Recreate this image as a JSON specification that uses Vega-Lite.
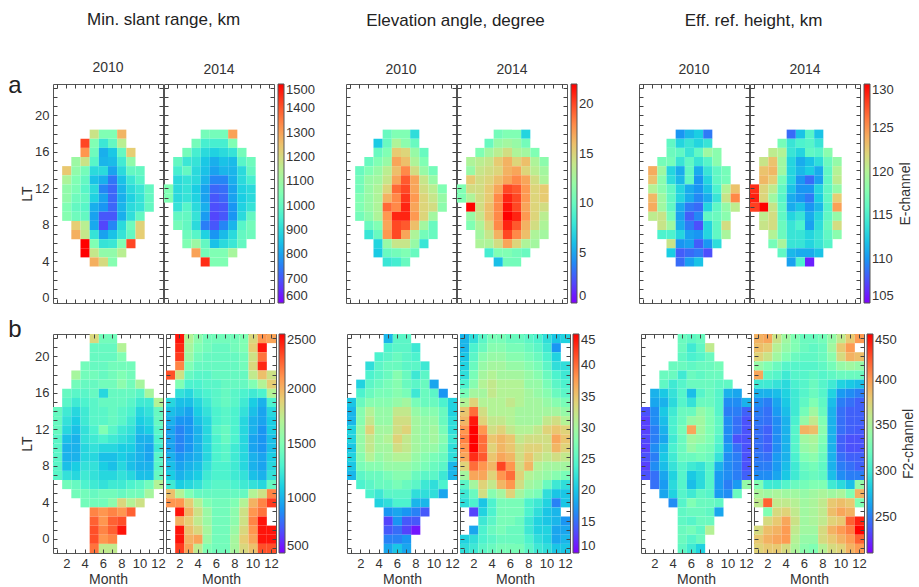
{
"$schema": "https://vega.github.io/schema/vega-lite/v6.json",
"padding": {"left": 8, "top": 10, "right": 1, "bottom": 0},
"background": "white",
"config": {
 "font": "Liberation Sans",
 "view": {"stroke": "#555", "strokeWidth": 1},
 "title": {"font": "Liberation Sans", "fontWeight": "normal", "color": "#222"},
 "axis": {"domain": false, "bandPosition": 0.5, "tickColor": "#444", "tickSize": -4, "tickWidth": 1, "labelFontSize": 13, "labelColor": "#333", "labelFont": "Liberation Sans", "titleFont": "Liberation Sans", "titleFontSize": 14, "titleFontWeight": "normal", "titleColor": "#333", "gridColor": "#e0e0e0", "labelAngle": 0},
 "axisX": {"gridOpacity": {"condition": {"test": "datum.value % 2 == 0", "value": 1}, "value": 0}, "labelPadding": 8, "titlePadding": 2},
 "axisY": {"gridOpacity": {"condition": {"test": "datum.value % 4 == 0", "value": 1}, "value": 0}, "labelPadding": 8, "titlePadding": 0},
 "legend": {"gradientLength": 219, "gradientThickness": 6, "labelFontSize": 13, "labelColor": "#333", "labelFont": "Liberation Sans", "offset": 3, "labelOffset": 4, "labelBaseline": "middle", "gradientStrokeColor": "#555", "gradientStrokeWidth": 1, "padding": 0, "titleFontSize": 14, "titleFontWeight": "normal", "titleColor": "#333", "titleFont": "Liberation Sans", "labelOverlap": false}
},
"spacing": 11,
"resolve": {"scale": {"color": "independent"}},
"vconcat": [
{
 "title": {"text": "a", "orient": "left", "anchor": "end", "angle": 0, "fontSize": 24, "color": "#222", "baseline": "top", "align": "right", "offset": -15, "dy": 63},
 "spacing": 44,
 "resolve": {"scale": {"color": "independent"}},
 "hconcat": [
 {
  "spacing": 30,
  "resolve": {"scale": {"color": "independent"}},
  "hconcat": [
  {
   "title": {"text": "Min. slant range, km", "fontSize": 17, "offset": 32, "anchor": "middle", "dx": -4},
   "spacing": -2,
   "resolve": {"scale": {"color": "shared"}},
   "hconcat": [
   {
    "width": 110, "height": 219,
    "title": {"text": "2010", "fontSize": 14, "color": "#333", "offset": 7},
    "data": {"values": "m,h,v\n5,18,1180\n6,18,1050\n7,18,1050\n8,18,1270\n4,17,1420\n5,17,1050\n6,17,930\n7,17,1000\n8,17,1150\n4,16,1320\n5,16,1020\n6,16,820\n7,16,860\n8,16,1000\n9,16,1230\n3,15,1100\n4,15,1180\n5,15,980\n6,15,830\n7,15,840\n8,15,940\n9,15,1080\n2,14,1240\n3,14,1080\n4,14,1030\n5,14,900\n6,14,900\n7,14,800\n8,14,900\n9,14,1000\n10,14,1000\n2,13,1130\n3,13,1050\n4,13,1000\n5,13,850\n6,13,820\n7,13,740\n8,13,850\n9,13,930\n10,13,980\n2,12,1080\n3,12,1040\n4,12,980\n5,12,900\n6,12,760\n7,12,720\n8,12,830\n9,12,900\n10,12,930\n11,12,1000\n2,11,1080\n3,11,1020\n4,11,1000\n5,11,880\n6,11,800\n7,11,720\n8,11,820\n9,11,880\n10,11,920\n11,11,1000\n2,10,1050\n3,10,1000\n4,10,980\n5,10,820\n6,10,780\n7,10,720\n8,10,830\n9,10,900\n10,10,920\n11,10,1000\n2,9,1060\n3,9,1020\n4,9,1000\n5,9,800\n6,9,700\n7,9,700\n8,9,820\n9,9,910\n10,9,1000\n3,8,1230\n4,8,1150\n5,8,810\n6,8,680\n7,8,760\n8,8,900\n9,8,1020\n10,8,1220\n3,7,1280\n4,7,1170\n5,7,920\n6,7,800\n7,7,850\n8,7,920\n9,7,1000\n10,7,1230\n4,6,1500\n5,6,1050\n6,6,920\n7,6,930\n8,6,1050\n9,6,1420\n4,5,1500\n5,5,1170\n6,5,1080\n7,5,1080\n8,5,1150\n5,4,1280\n6,4,1200\n7,4,1060", "format": {"type": "csv", "parse": {"m": "number", "h": "number", "v": "number"}}},
    "resolve": {"axis": {"x": "independent", "y": "independent"}},
    "layer": [
     {"mark": "rect", "encoding": {
      "x": {"field": "m", "type": "ordinal", "scale": {"domain": [1,2,3,4,5,6,7,8,9,10,11,12]}, "axis": {"orient": "bottom", "labels": false, "title": null, "grid": true}},
      "y": {"field": "h", "type": "ordinal", "scale": {"domain": [23,22,21,20,19,18,17,16,15,14,13,12,11,10,9,8,7,6,5,4,3,2,1,0]}, "axis": {"orient": "left", "title": "LT", "grid": true, "labelExpr": "datum.value % 4 == 0 ? datum.label : ''"}},
      "color": {"field": "v", "type": "quantitative", "scale": {"domain": [600,690,780,870,960,1050,1140,1230,1320,1410,1500], "range": ["#8000ff","#4d4ffc","#1996f3","#1acee3","#4df3ce","#80ffb4","#b3f396","#e6ce74","#ff964f","#ff4f28","#ff0000"], "interpolate": "rgb"}, "legend": {"title": null, "format": "d", "values": [600,700,800,900,1000,1100,1200,1300,1400,1500]}}}},
     {"mark": {"type": "rect", "opacity": 0}, "encoding": {
      "x": {"field": "m", "type": "ordinal", "scale": {"domain": [1,2,3,4,5,6,7,8,9,10,11,12]}, "axis": {"orient": "top", "labels": false, "title": null}},
      "y": {"field": "h", "type": "ordinal", "scale": {"domain": [23,22,21,20,19,18,17,16,15,14,13,12,11,10,9,8,7,6,5,4,3,2,1,0]}, "axis": {"orient": "right", "labels": false, "title": null}}}}
    ]
   },
   {
    "width": 110, "height": 219,
    "title": {"text": "2014", "fontSize": 14, "color": "#333", "offset": 7},
    "data": {"values": "m,h,v\n5,18,1030\n6,18,1030\n7,18,1030\n8,18,1300\n4,17,1030\n5,17,950\n6,17,950\n7,17,950\n8,17,1050\n3,16,1030\n4,16,950\n5,16,900\n6,16,880\n7,16,900\n8,16,920\n9,16,1030\n2,15,1000\n3,15,930\n4,15,920\n5,15,860\n6,15,820\n7,15,850\n8,15,840\n9,15,980\n10,15,1020\n2,14,950\n3,14,1000\n4,14,900\n5,14,850\n6,14,800\n7,14,830\n8,14,830\n9,14,900\n10,14,1000\n2,13,900\n3,13,920\n4,13,900\n5,13,830\n6,13,760\n7,13,760\n8,13,820\n9,13,900\n10,13,950\n1,12,1050\n2,12,900\n3,12,920\n4,12,870\n5,12,800\n6,12,720\n7,12,730\n8,12,800\n9,12,880\n10,12,900\n1,11,1050\n2,11,900\n3,11,920\n4,11,880\n5,11,800\n6,11,700\n7,11,720\n8,11,800\n9,11,870\n10,11,900\n2,10,920\n3,10,980\n4,10,900\n5,10,820\n6,10,690\n7,10,700\n8,10,780\n9,10,880\n10,10,920\n2,9,1000\n3,9,1000\n4,9,920\n5,9,790\n6,9,680\n7,9,700\n8,9,780\n9,9,900\n10,9,1000\n2,8,1030\n3,8,1000\n4,8,900\n5,8,750\n6,8,700\n7,8,760\n8,8,830\n9,8,980\n10,8,1030\n3,7,1020\n4,7,980\n5,7,880\n6,7,780\n7,7,840\n8,7,900\n9,7,1000\n10,7,1020\n3,6,1050\n4,6,1100\n5,6,1000\n6,6,850\n7,6,900\n8,6,930\n9,6,1000\n4,5,1300\n5,5,1030\n6,5,1050\n7,5,1050\n8,5,1120\n5,4,1450\n6,4,1050\n7,4,1050", "format": {"type": "csv", "parse": {"m": "number", "h": "number", "v": "number"}}},
    "resolve": {"axis": {"x": "independent", "y": "independent"}},
    "layer": [
     {"mark": "rect", "encoding": {
      "x": {"field": "m", "type": "ordinal", "scale": {"domain": [1,2,3,4,5,6,7,8,9,10,11,12]}, "axis": {"orient": "bottom", "labels": false, "title": null, "grid": true}},
      "y": {"field": "h", "type": "ordinal", "scale": {"domain": [23,22,21,20,19,18,17,16,15,14,13,12,11,10,9,8,7,6,5,4,3,2,1,0]}, "axis": {"orient": "left", "labels": false, "title": null, "grid": true}},
      "color": {"field": "v", "type": "quantitative", "scale": {"domain": [600,690,780,870,960,1050,1140,1230,1320,1410,1500], "range": ["#8000ff","#4d4ffc","#1996f3","#1acee3","#4df3ce","#80ffb4","#b3f396","#e6ce74","#ff964f","#ff4f28","#ff0000"], "interpolate": "rgb"}, "legend": {"title": null, "format": "d", "values": [600,700,800,900,1000,1100,1200,1300,1400,1500]}}}},
     {"mark": {"type": "rect", "opacity": 0}, "encoding": {
      "x": {"field": "m", "type": "ordinal", "scale": {"domain": [1,2,3,4,5,6,7,8,9,10,11,12]}, "axis": {"orient": "top", "labels": false, "title": null}},
      "y": {"field": "h", "type": "ordinal", "scale": {"domain": [23,22,21,20,19,18,17,16,15,14,13,12,11,10,9,8,7,6,5,4,3,2,1,0]}, "axis": {"orient": "right", "labels": false, "title": null}}}}
    ]
   }
   ]
  },
  {
   "title": {"text": "Elevation angle, degree", "fontSize": 17, "offset": 32, "anchor": "middle", "dx": -14},
   "spacing": -2,
   "resolve": {"scale": {"color": "shared"}},
   "hconcat": [
   {
    "width": 110, "height": 219,
    "title": {"text": "2010", "fontSize": 14, "color": "#333", "offset": 7},
    "data": {"values": "m,h,v\n5,18,10\n6,18,11\n7,18,11\n8,18,7.5\n4,17,6.5\n5,17,10\n6,17,13\n7,17,11.5\n8,17,10\n4,16,10\n5,16,11\n6,16,15.5\n7,16,15\n8,16,12\n9,16,10\n3,15,10\n4,15,11\n5,15,12\n6,15,17\n7,15,16\n8,15,13\n9,15,11\n2,14,10\n3,14,11\n4,14,12\n5,14,13.5\n6,14,16\n7,14,18\n8,14,14.5\n9,14,12\n10,14,10.5\n2,13,10.5\n3,13,12\n4,13,12.5\n5,13,14\n6,13,17\n7,13,19.5\n8,13,17\n9,13,14\n10,13,12\n2,12,10.5\n3,12,12\n4,12,13\n5,12,15\n6,12,19\n7,12,20\n8,12,17\n9,12,14.5\n10,12,13.5\n11,12,11\n2,11,11\n3,11,12\n4,11,13\n5,11,16.5\n6,11,18\n7,11,20.5\n8,11,17.5\n9,11,15\n10,11,14\n11,11,12\n2,10,11\n3,10,12\n4,10,13\n5,10,19\n6,10,18\n7,10,21\n8,10,17\n9,10,15\n10,10,14.5\n11,10,11.5\n2,9,10.5\n3,9,11.5\n4,9,13\n5,9,17.5\n6,9,21\n7,9,21\n8,9,17.5\n9,9,15\n10,9,12.5\n3,8,10\n4,8,11\n5,8,17\n6,8,20\n7,8,19.5\n8,8,16\n9,8,12.5\n10,8,10\n3,7,8\n4,7,10\n5,7,17.5\n6,7,20\n7,7,17\n8,7,13\n9,7,10.5\n10,7,10\n4,6,7\n5,6,12\n6,6,14\n7,6,14\n8,6,12\n9,6,8\n4,5,6.5\n5,5,10\n6,5,10.5\n7,5,11\n8,5,10\n5,4,8\n6,4,8.5\n7,4,10", "format": {"type": "csv", "parse": {"m": "number", "h": "number", "v": "number"}}},
    "resolve": {"axis": {"x": "independent", "y": "independent"}},
    "layer": [
     {"mark": "rect", "encoding": {
      "x": {"field": "m", "type": "ordinal", "scale": {"domain": [1,2,3,4,5,6,7,8,9,10,11,12]}, "axis": {"orient": "bottom", "labels": false, "title": null, "grid": true}},
      "y": {"field": "h", "type": "ordinal", "scale": {"domain": [23,22,21,20,19,18,17,16,15,14,13,12,11,10,9,8,7,6,5,4,3,2,1,0]}, "axis": {"orient": "left", "labels": false, "title": null, "grid": true}},
      "color": {"field": "v", "type": "quantitative", "scale": {"domain": [0,2.2,4.4,6.6,8.8,11,13.2,15.4,17.6,19.8,22], "range": ["#8000ff","#4d4ffc","#1996f3","#1acee3","#4df3ce","#80ffb4","#b3f396","#e6ce74","#ff964f","#ff4f28","#ff0000"], "interpolate": "rgb"}, "legend": {"title": null, "format": "d", "values": [0,5,10,15,20]}}}},
     {"mark": {"type": "rect", "opacity": 0}, "encoding": {
      "x": {"field": "m", "type": "ordinal", "scale": {"domain": [1,2,3,4,5,6,7,8,9,10,11,12]}, "axis": {"orient": "top", "labels": false, "title": null}},
      "y": {"field": "h", "type": "ordinal", "scale": {"domain": [23,22,21,20,19,18,17,16,15,14,13,12,11,10,9,8,7,6,5,4,3,2,1,0]}, "axis": {"orient": "right", "labels": false, "title": null}}}}
    ]
   },
   {
    "width": 110, "height": 219,
    "title": {"text": "2014", "fontSize": 14, "color": "#333", "offset": 7},
    "data": {"values": "m,h,v\n5,18,10.5\n6,18,11\n7,18,11\n8,18,7\n4,17,10\n5,17,12\n6,17,12.5\n7,17,12\n8,17,10.5\n3,16,11\n4,16,12.5\n5,16,13.5\n6,16,14.5\n7,16,13\n8,16,12.5\n9,16,11\n2,15,13\n3,15,13.5\n4,15,14\n5,15,15.5\n6,15,16.5\n7,15,15\n8,15,16\n9,15,13\n10,15,11.5\n2,14,12\n3,14,14\n4,14,14.5\n5,14,15\n6,14,16.5\n7,14,17\n8,14,15\n9,14,13.5\n10,14,12.5\n2,13,15.5\n3,13,14.5\n4,13,15\n5,13,16\n6,13,17\n7,13,18\n8,13,17\n9,13,14.5\n10,13,13\n1,12,11\n2,12,14.5\n3,12,14.5\n4,12,15.5\n5,12,17\n6,12,20\n7,12,19.5\n8,12,17.5\n9,12,15\n10,12,15.5\n1,11,11\n2,11,13\n3,11,14.5\n4,11,15.5\n5,11,18\n6,11,21\n7,11,20\n8,11,17.5\n9,11,15\n10,11,15.5\n2,10,22\n3,10,14.5\n4,10,16\n5,10,18\n6,10,21.5\n7,10,20\n8,10,17\n9,10,15\n10,10,14.5\n2,9,12\n3,9,14\n4,9,16\n5,9,18\n6,9,22\n7,9,21\n8,9,17.5\n9,9,15\n10,9,13.5\n2,8,11\n3,8,13\n4,8,15\n5,8,18\n6,8,21\n7,8,19.5\n8,8,16.5\n9,8,14.5\n10,8,13\n3,7,12.5\n4,7,14\n5,7,16.5\n6,7,20\n7,7,18\n8,7,16\n9,7,13\n10,7,12.5\n3,6,13\n4,6,13\n5,6,14.5\n6,6,17\n7,6,15\n8,6,13\n9,6,12.5\n4,5,8.5\n5,5,11\n6,5,11\n7,5,10.5\n8,5,10\n5,4,6\n6,4,10.5\n7,4,10.5", "format": {"type": "csv", "parse": {"m": "number", "h": "number", "v": "number"}}},
    "resolve": {"axis": {"x": "independent", "y": "independent"}},
    "layer": [
     {"mark": "rect", "encoding": {
      "x": {"field": "m", "type": "ordinal", "scale": {"domain": [1,2,3,4,5,6,7,8,9,10,11,12]}, "axis": {"orient": "bottom", "labels": false, "title": null, "grid": true}},
      "y": {"field": "h", "type": "ordinal", "scale": {"domain": [23,22,21,20,19,18,17,16,15,14,13,12,11,10,9,8,7,6,5,4,3,2,1,0]}, "axis": {"orient": "left", "labels": false, "title": null, "grid": true}},
      "color": {"field": "v", "type": "quantitative", "scale": {"domain": [0,2.2,4.4,6.6,8.8,11,13.2,15.4,17.6,19.8,22], "range": ["#8000ff","#4d4ffc","#1996f3","#1acee3","#4df3ce","#80ffb4","#b3f396","#e6ce74","#ff964f","#ff4f28","#ff0000"], "interpolate": "rgb"}, "legend": {"title": null, "format": "d", "values": [0,5,10,15,20]}}}},
     {"mark": {"type": "rect", "opacity": 0}, "encoding": {
      "x": {"field": "m", "type": "ordinal", "scale": {"domain": [1,2,3,4,5,6,7,8,9,10,11,12]}, "axis": {"orient": "top", "labels": false, "title": null}},
      "y": {"field": "h", "type": "ordinal", "scale": {"domain": [23,22,21,20,19,18,17,16,15,14,13,12,11,10,9,8,7,6,5,4,3,2,1,0]}, "axis": {"orient": "right", "labels": false, "title": null}}}}
    ]
   }
   ]
  }
  ]
 },
 {
  "title": {"text": "Eff. ref. height, km", "fontSize": 17, "offset": 32, "anchor": "middle", "dx": -22},
  "spacing": -2,
  "resolve": {"scale": {"color": "shared"}},
  "hconcat": [
  {
   "width": 110, "height": 219,
   "title": {"text": "2010", "fontSize": 14, "color": "#333", "offset": 7},
   "data": {"values": "m,h,v\n5,18,110\n6,18,111.5\n7,18,112.5\n8,18,109\n4,17,116\n5,17,113\n6,17,114\n7,17,113\n8,17,114\n4,16,116.5\n5,16,116\n6,16,114\n7,16,116\n8,16,119\n9,16,118\n3,15,117\n4,15,117\n5,15,114\n6,15,116\n7,15,114\n8,15,115.5\n9,15,118\n2,14,124\n3,14,119\n4,14,113\n5,14,111\n6,14,116\n7,14,111\n8,14,114\n9,14,116\n10,14,117\n2,13,123\n3,13,118\n4,13,113.5\n5,13,111.5\n6,13,116\n7,13,110\n8,13,113\n9,13,116\n10,13,117\n2,12,120\n3,12,118\n4,12,116\n5,12,113\n6,12,111\n7,12,110\n8,12,112\n9,12,115\n10,12,120\n11,12,123\n2,11,123.5\n3,11,119\n4,11,116\n5,11,113\n6,11,111\n7,11,109.5\n8,11,111\n9,11,114\n10,11,121\n11,11,125.5\n2,10,124\n3,10,119\n4,10,116\n5,10,111\n6,10,109\n7,10,108.5\n8,10,113\n9,10,116\n10,10,118.5\n11,10,120.5\n2,9,120.5\n3,9,121\n4,9,117\n5,9,110.5\n6,9,108\n7,9,109.5\n8,9,116\n9,9,116.5\n10,9,118\n3,8,121\n4,8,119\n5,8,111\n6,8,109\n7,8,107.5\n8,8,113\n9,8,116\n10,8,121.5\n3,7,115\n4,7,115\n5,7,113\n6,7,110.5\n7,7,110\n8,7,113\n9,7,116\n10,7,119.5\n4,6,121\n5,6,110\n6,6,110.5\n7,6,108\n8,6,110\n9,6,113.5\n4,5,112.5\n5,5,108\n6,5,108.5\n7,5,109\n8,5,107.5\n5,4,108.5\n6,4,110.5\n7,4,112", "format": {"type": "csv", "parse": {"m": "number", "h": "number", "v": "number"}}},
   "resolve": {"axis": {"x": "independent", "y": "independent"}},
   "layer": [
    {"mark": "rect", "encoding": {
     "x": {"field": "m", "type": "ordinal", "scale": {"domain": [1,2,3,4,5,6,7,8,9,10,11,12]}, "axis": {"orient": "bottom", "labels": false, "title": null, "grid": true}},
     "y": {"field": "h", "type": "ordinal", "scale": {"domain": [23,22,21,20,19,18,17,16,15,14,13,12,11,10,9,8,7,6,5,4,3,2,1,0]}, "axis": {"orient": "left", "labels": false, "title": null, "grid": true}},
     "color": {"field": "v", "type": "quantitative", "scale": {"domain": [105,107.5,110,112.5,115,117.5,120,122.5,125,127.5,130], "range": ["#8000ff","#4d4ffc","#1996f3","#1acee3","#4df3ce","#80ffb4","#b3f396","#e6ce74","#ff964f","#ff4f28","#ff0000"], "interpolate": "rgb"}, "legend": {"title": "E-channel", "format": "d", "titleOrient": "right", "titleAnchor": "middle", "titleAlign": "center", "titleBaseline": "top", "titlePadding": 5, "encode": {"title": {"update": {"angle": {"value": -90}}}}, "values": [105,110,115,120,125,130]}}}},
    {"mark": {"type": "rect", "opacity": 0}, "encoding": {
     "x": {"field": "m", "type": "ordinal", "scale": {"domain": [1,2,3,4,5,6,7,8,9,10,11,12]}, "axis": {"orient": "top", "labels": false, "title": null}},
     "y": {"field": "h", "type": "ordinal", "scale": {"domain": [23,22,21,20,19,18,17,16,15,14,13,12,11,10,9,8,7,6,5,4,3,2,1,0]}, "axis": {"orient": "right", "labels": false, "title": null}}}}
   ]
  },
  {
   "width": 110, "height": 219,
   "title": {"text": "2014", "fontSize": 14, "color": "#333", "offset": 7},
   "data": {"values": "m,h,v\n5,18,108.5\n6,18,112\n7,18,115.5\n8,18,112\n4,17,117\n5,17,114\n6,17,115\n7,17,115.5\n8,17,114\n3,16,120.5\n4,16,120\n5,16,114\n6,16,113\n7,16,116\n8,16,115.5\n9,16,118\n2,15,121\n3,15,123\n4,15,119\n5,15,113\n6,15,111\n7,15,112\n8,15,113.5\n9,15,116.5\n10,15,118.5\n2,14,123\n3,14,123.5\n4,14,119\n5,14,113\n6,14,111.5\n7,14,112.5\n8,14,111\n9,14,116\n10,14,120\n2,13,123.5\n3,13,122.5\n4,13,117\n5,13,113\n6,13,110\n7,13,108.5\n8,13,110.5\n9,13,116\n10,13,120.5\n1,12,128.5\n2,12,122\n3,12,120.5\n4,12,116\n5,12,112\n6,12,110\n7,12,110\n8,12,113\n9,12,116\n10,12,118.5\n1,11,129\n2,11,122\n3,11,119\n4,11,115.5\n5,11,111\n6,11,110\n7,11,109\n8,11,112.5\n9,11,116\n10,11,122.5\n1,10,128\n2,10,130\n3,10,121\n4,10,116\n5,10,111\n6,10,112\n7,10,110\n8,10,111.5\n9,10,115.5\n10,10,124.5\n2,9,120.5\n3,9,121.5\n4,9,116\n5,9,113\n6,9,114\n7,9,111\n8,9,113\n9,9,116\n10,9,118.5\n2,8,121\n3,8,121.5\n4,8,116.5\n5,8,114\n6,8,115\n7,8,110.5\n8,8,113.5\n9,8,116.5\n10,8,121.5\n3,7,120\n4,7,116.5\n5,7,114\n6,7,114\n7,7,113\n8,7,114\n9,7,116\n10,7,118\n3,6,117\n4,6,119.5\n5,6,114\n6,6,114\n7,6,113\n8,6,114\n9,6,115.5\n4,5,116\n5,5,111.5\n6,5,111\n7,5,111\n8,5,112\n5,4,110.5\n6,4,115\n7,4,106", "format": {"type": "csv", "parse": {"m": "number", "h": "number", "v": "number"}}},
   "resolve": {"axis": {"x": "independent", "y": "independent"}},
   "layer": [
    {"mark": "rect", "encoding": {
     "x": {"field": "m", "type": "ordinal", "scale": {"domain": [1,2,3,4,5,6,7,8,9,10,11,12]}, "axis": {"orient": "bottom", "labels": false, "title": null, "grid": true}},
     "y": {"field": "h", "type": "ordinal", "scale": {"domain": [23,22,21,20,19,18,17,16,15,14,13,12,11,10,9,8,7,6,5,4,3,2,1,0]}, "axis": {"orient": "left", "labels": false, "title": null, "grid": true}},
     "color": {"field": "v", "type": "quantitative", "scale": {"domain": [105,107.5,110,112.5,115,117.5,120,122.5,125,127.5,130], "range": ["#8000ff","#4d4ffc","#1996f3","#1acee3","#4df3ce","#80ffb4","#b3f396","#e6ce74","#ff964f","#ff4f28","#ff0000"], "interpolate": "rgb"}, "legend": {"title": "E-channel", "format": "d", "titleOrient": "right", "titleAnchor": "middle", "titleAlign": "center", "titleBaseline": "top", "titlePadding": 5, "encode": {"title": {"update": {"angle": {"value": -90}}}}, "values": [105,110,115,120,125,130]}}}},
    {"mark": {"type": "rect", "opacity": 0}, "encoding": {
     "x": {"field": "m", "type": "ordinal", "scale": {"domain": [1,2,3,4,5,6,7,8,9,10,11,12]}, "axis": {"orient": "top", "labels": false, "title": null}},
     "y": {"field": "h", "type": "ordinal", "scale": {"domain": [23,22,21,20,19,18,17,16,15,14,13,12,11,10,9,8,7,6,5,4,3,2,1,0]}, "axis": {"orient": "right", "labels": false, "title": null}}}}
   ]
  }
  ]
 }
 ]
},
{
 "title": {"text": "b", "orient": "left", "anchor": "end", "angle": 0, "fontSize": 24, "color": "#222", "baseline": "top", "align": "right", "offset": -15, "dy": -14},
 "spacing": 44,
 "resolve": {"scale": {"color": "independent"}},
 "hconcat": [
 {
  "spacing": 30,
  "resolve": {"scale": {"color": "independent"}},
  "hconcat": [
  {
   "spacing": -2,
   "resolve": {"scale": {"color": "shared"}},
   "hconcat": [
   {
    "width": 110, "height": 219,
    "data": {"values": "m,h,v\n5,22,1850\n6,22,1450\n7,22,1450\n5,21,1400\n6,21,1400\n7,21,1400\n8,21,1700\n5,20,1400\n6,20,1400\n7,20,1400\n8,20,1500\n4,19,1450\n5,19,1400\n6,19,1400\n7,19,1450\n8,19,1450\n9,19,1450\n3,18,1650\n4,18,1450\n5,18,1450\n6,18,1400\n7,18,1450\n8,18,1500\n9,18,1450\n3,17,1450\n4,17,1400\n5,17,1400\n6,17,1450\n7,17,1450\n8,17,1550\n9,17,1450\n10,17,1650\n2,16,1400\n3,16,1350\n4,16,1350\n5,16,1400\n6,16,1150\n7,16,1400\n8,16,1400\n9,16,1400\n10,16,1350\n11,16,1650\n2,15,1350\n3,15,1250\n4,15,1300\n5,15,1350\n6,15,1400\n7,15,1400\n8,15,1400\n9,15,1350\n10,15,1250\n11,15,1250\n12,15,1700\n1,14,1400\n2,14,1250\n3,14,1150\n4,14,1250\n5,14,1350\n6,14,1350\n7,14,1400\n8,14,1350\n9,14,1300\n10,14,1150\n11,14,1200\n12,14,1400\n1,13,1400\n2,13,1200\n3,13,1100\n4,13,1250\n5,13,1350\n6,13,1350\n7,13,1400\n8,13,1350\n9,13,1250\n10,13,1100\n11,13,1150\n12,13,1400\n1,12,1400\n2,12,1150\n3,12,1050\n4,12,1200\n5,12,1300\n6,12,1500\n7,12,1350\n8,12,1250\n9,12,1200\n10,12,1050\n11,12,1100\n12,12,1350\n1,11,1350\n2,11,1050\n3,11,1000\n4,11,1200\n5,11,1250\n6,11,1300\n7,11,1250\n8,11,1200\n9,11,1150\n10,11,1000\n11,11,1000\n12,11,1300\n1,10,1350\n2,10,1000\n3,10,1000\n4,10,1150\n5,10,1200\n6,10,1150\n7,10,1150\n8,10,1100\n9,10,1100\n10,10,1000\n11,10,950\n12,10,1250\n1,9,1350\n2,9,1000\n3,9,1000\n4,9,1150\n5,9,1150\n6,9,1050\n7,9,1050\n8,9,1100\n9,9,1050\n10,9,1000\n11,9,950\n12,9,1350\n1,8,1350\n2,8,1050\n3,8,1100\n4,8,1200\n5,8,1200\n6,8,1100\n7,8,1050\n8,8,1150\n9,8,1050\n10,8,1000\n11,8,1000\n12,8,1350\n1,7,1350\n2,7,1200\n3,7,1150\n4,7,1250\n5,7,1200\n6,7,1150\n7,7,1150\n8,7,1200\n9,7,1150\n10,7,1050\n11,7,1050\n12,7,1400\n2,6,1450\n3,6,1400\n4,6,1300\n5,6,1250\n6,6,1200\n7,6,1250\n8,6,1250\n9,6,1300\n10,6,1350\n11,6,1450\n12,6,1700\n3,5,1450\n4,5,1450\n5,5,1400\n6,5,1450\n7,5,1450\n8,5,1400\n9,5,1450\n10,5,1450\n11,5,1650\n4,4,1450\n5,4,1450\n6,4,1450\n7,4,1550\n8,4,1850\n9,4,1700\n10,4,1800\n5,3,2150\n6,3,2100\n7,3,2150\n8,3,2100\n9,3,2250\n5,2,2250\n6,2,2100\n7,2,2250\n8,2,2300\n5,1,2300\n6,1,2150\n7,1,2250\n8,1,2450\n5,0,2300\n6,0,2100\n7,0,2150\n5,-1,2200\n6,-1,1750\n7,-1,1750", "format": {"type": "csv", "parse": {"m": "number", "h": "number", "v": "number"}}},
    "resolve": {"axis": {"x": "independent", "y": "independent"}},
    "layer": [
     {"mark": "rect", "encoding": {
      "x": {"field": "m", "type": "ordinal", "scale": {"domain": [1,2,3,4,5,6,7,8,9,10,11,12]}, "axis": {"orient": "bottom", "title": "Month", "grid": true, "labelExpr": "datum.value % 2 == 0 ? datum.label : ''"}},
      "y": {"field": "h", "type": "ordinal", "scale": {"domain": [22,21,20,19,18,17,16,15,14,13,12,11,10,9,8,7,6,5,4,3,2,1,0,-1]}, "axis": {"orient": "left", "title": "LT", "grid": true, "labelExpr": "datum.value % 4 == 0 ? datum.label : ''"}},
      "color": {"field": "v", "type": "quantitative", "scale": {"domain": [500,700,900,1100,1300,1500,1700,1900,2100,2300,2500], "range": ["#8000ff","#4d4ffc","#1996f3","#1acee3","#4df3ce","#80ffb4","#b3f396","#e6ce74","#ff964f","#ff4f28","#ff0000"], "interpolate": "rgb"}, "legend": {"title": null, "format": "d", "offset": 0, "values": [500,1000,1500,2000,2500]}}}},
     {"mark": {"type": "rect", "opacity": 0}, "encoding": {
      "x": {"field": "m", "type": "ordinal", "scale": {"domain": [1,2,3,4,5,6,7,8,9,10,11,12]}, "axis": {"orient": "top", "labels": false, "title": null}},
      "y": {"field": "h", "type": "ordinal", "scale": {"domain": [22,21,20,19,18,17,16,15,14,13,12,11,10,9,8,7,6,5,4,3,2,1,0,-1]}, "axis": {"orient": "right", "labels": false, "title": null}}}}
    ]
   },
   {
    "width": 110, "height": 219,
    "data": {"values": "m,h,v\n2,22,2450\n3,22,1700\n4,22,1550\n5,22,1450\n6,22,1450\n7,22,1450\n8,22,1450\n9,22,1500\n10,22,1850\n11,22,2100\n12,22,2050\n2,21,2400\n3,21,1650\n4,21,1500\n5,21,1450\n6,21,1400\n7,21,1400\n8,21,1450\n9,21,1500\n10,21,1900\n11,21,2450\n2,20,2350\n3,20,1600\n4,20,1450\n5,20,1400\n6,20,1400\n7,20,1400\n8,20,1400\n9,20,1450\n10,20,1800\n11,20,2200\n2,19,2150\n3,19,1500\n4,19,1400\n5,19,1400\n6,19,1400\n7,19,1400\n8,19,1400\n9,19,1450\n10,19,1850\n11,19,2400\n1,18,2300\n2,18,1800\n3,18,1400\n4,18,1350\n5,18,1350\n6,18,1400\n7,18,1400\n8,18,1400\n9,18,1400\n10,18,1750\n11,18,1950\n12,18,1800\n2,17,1500\n3,17,1300\n4,17,1300\n5,17,1350\n6,17,1350\n7,17,1400\n8,17,1400\n9,17,1400\n10,17,1500\n11,17,1700\n12,17,1900\n2,16,1200\n3,16,1150\n4,16,1250\n5,16,1300\n6,16,1350\n7,16,1400\n8,16,1350\n9,16,1300\n10,16,1250\n11,16,1300\n12,16,1700\n1,15,1150\n2,15,1050\n3,15,1050\n4,15,1150\n5,15,1250\n6,15,1350\n7,15,1400\n8,15,1350\n9,15,1250\n10,15,1100\n11,15,1000\n12,15,1300\n1,14,1050\n2,14,1000\n3,14,950\n4,14,1100\n5,14,1200\n6,14,1300\n7,14,1350\n8,14,1300\n9,14,1200\n10,14,1050\n11,14,950\n12,14,1150\n1,13,1000\n2,13,900\n3,13,900\n4,13,1050\n5,13,1150\n6,13,1300\n7,13,1350\n8,13,1300\n9,13,1150\n10,13,1000\n11,13,950\n12,13,1100\n1,12,950\n2,12,850\n3,12,900\n4,12,1000\n5,12,1150\n6,12,1350\n7,12,1400\n8,12,1300\n9,12,1150\n10,12,1000\n11,12,900\n12,12,1100\n1,11,950\n2,11,850\n3,11,900\n4,11,1000\n5,11,1150\n6,11,1300\n7,11,1400\n8,11,1300\n9,11,1150\n10,11,950\n11,11,900\n12,11,1050\n1,10,950\n2,10,850\n3,10,900\n4,10,1000\n5,10,1150\n6,10,1300\n7,10,1350\n8,10,1250\n9,10,1150\n10,10,950\n11,10,900\n12,10,1050\n1,9,1000\n2,9,900\n3,9,950\n4,9,1000\n5,9,1150\n6,9,1300\n7,9,1350\n8,9,1250\n9,9,1150\n10,9,1000\n11,9,950\n12,9,1100\n1,8,1050\n2,8,950\n3,8,1000\n4,8,1050\n5,8,1200\n6,8,1300\n7,8,1300\n8,8,1250\n9,8,1150\n10,8,1000\n11,8,950\n12,8,1150\n1,7,1100\n2,7,1000\n3,7,1050\n4,7,1100\n5,7,1250\n6,7,1300\n7,7,1300\n8,7,1250\n9,7,1200\n10,7,1050\n11,7,1000\n12,7,1200\n1,6,1250\n2,6,1100\n3,6,1150\n4,6,1200\n5,6,1300\n6,6,1350\n7,6,1350\n8,6,1300\n9,6,1250\n10,6,1200\n11,6,1150\n12,6,1400\n1,5,1950\n2,5,1700\n3,5,1500\n4,5,1400\n5,5,1400\n6,5,1400\n7,5,1400\n8,5,1400\n9,5,1400\n10,5,1700\n11,5,1800\n12,5,2150\n1,4,2100\n2,4,2100\n3,4,1900\n4,4,1700\n5,4,1500\n6,4,1450\n7,4,1450\n8,4,1500\n9,4,1700\n10,4,2000\n11,4,2150\n12,4,2350\n2,3,2450\n3,3,2000\n4,3,1800\n5,3,1600\n6,3,1450\n7,3,1450\n8,3,1550\n9,3,1800\n10,3,2100\n11,3,2200\n2,2,2000\n3,2,1900\n4,2,1750\n5,2,1600\n6,2,1450\n7,2,1450\n8,2,1550\n9,2,1800\n10,2,2150\n11,2,2450\n2,1,2450\n3,1,1950\n4,1,1850\n5,1,1650\n6,1,1450\n7,1,1450\n8,1,1600\n9,1,1850\n10,1,2100\n11,1,2450\n12,1,2450\n2,0,2450\n3,0,2000\n4,0,2050\n5,0,1600\n6,0,1450\n7,0,1450\n8,0,1650\n9,0,1900\n10,0,2050\n11,0,2450\n12,0,2450\n2,-1,2350\n3,-1,2050\n4,-1,1750\n5,-1,1500\n6,-1,1450\n7,-1,1450\n8,-1,1650\n9,-1,1850\n10,-1,1950\n11,-1,2300\n12,-1,2300", "format": {"type": "csv", "parse": {"m": "number", "h": "number", "v": "number"}}},
    "resolve": {"axis": {"x": "independent", "y": "independent"}},
    "layer": [
     {"mark": "rect", "encoding": {
      "x": {"field": "m", "type": "ordinal", "scale": {"domain": [1,2,3,4,5,6,7,8,9,10,11,12]}, "axis": {"orient": "bottom", "title": "Month", "grid": true, "labelExpr": "datum.value % 2 == 0 ? datum.label : ''"}},
      "y": {"field": "h", "type": "ordinal", "scale": {"domain": [22,21,20,19,18,17,16,15,14,13,12,11,10,9,8,7,6,5,4,3,2,1,0,-1]}, "axis": {"orient": "left", "labels": false, "title": null, "grid": true}},
      "color": {"field": "v", "type": "quantitative", "scale": {"domain": [500,700,900,1100,1300,1500,1700,1900,2100,2300,2500], "range": ["#8000ff","#4d4ffc","#1996f3","#1acee3","#4df3ce","#80ffb4","#b3f396","#e6ce74","#ff964f","#ff4f28","#ff0000"], "interpolate": "rgb"}, "legend": {"title": null, "format": "d", "offset": 0, "values": [500,1000,1500,2000,2500]}}}},
     {"mark": {"type": "rect", "opacity": 0}, "encoding": {
      "x": {"field": "m", "type": "ordinal", "scale": {"domain": [1,2,3,4,5,6,7,8,9,10,11,12]}, "axis": {"orient": "top", "labels": false, "title": null}},
      "y": {"field": "h", "type": "ordinal", "scale": {"domain": [22,21,20,19,18,17,16,15,14,13,12,11,10,9,8,7,6,5,4,3,2,1,0,-1]}, "axis": {"orient": "right", "labels": false, "title": null}}}}
    ]
   }
   ]
  },
  {
   "spacing": -2,
   "resolve": {"scale": {"color": "shared"}},
   "hconcat": [
   {
    "width": 110, "height": 219,
    "data": {"values": "m,h,v\n5,22,19\n6,22,25\n7,22,25\n5,21,24\n6,21,25\n7,21,25\n8,21,23\n4,20,24\n5,20,25\n6,20,26\n7,20,25\n8,20,24\n3,19,22\n4,19,25\n5,19,26\n6,19,26\n7,19,25\n8,19,25\n9,19,23\n3,18,24\n4,18,25\n5,18,26\n6,18,28\n7,18,26\n8,18,23\n9,18,25\n2,17,21\n3,17,25\n4,17,26\n5,17,27\n6,17,28\n7,17,26\n8,17,25\n9,17,26\n10,17,18\n2,16,24\n3,16,26\n4,16,27\n5,16,27\n6,16,28\n7,16,27\n8,16,23\n9,16,26\n10,16,25\n11,16,17\n1,15,20\n2,15,26\n3,15,28\n4,15,28\n5,15,28\n6,15,29\n7,15,30\n8,15,27\n9,15,26\n10,15,26\n11,15,24\n12,15,21\n1,14,19\n2,14,28\n3,14,31\n4,14,29\n5,14,29\n6,14,32\n7,14,32\n8,14,29\n9,14,28\n10,14,28\n11,14,26\n12,14,21\n1,13,19\n2,13,28\n3,13,32\n4,13,29\n5,13,29\n6,13,33\n7,13,33\n8,13,30\n9,13,29\n10,13,29\n11,13,26\n12,13,22\n1,12,21\n2,12,29\n3,12,34\n4,12,30\n5,12,30\n6,12,33\n7,12,34\n8,12,30\n9,12,29\n10,12,30\n11,12,27\n12,12,22\n1,11,21\n2,11,29\n3,11,32\n4,11,30\n5,11,31\n6,11,34\n7,11,32\n8,11,30\n9,11,29\n10,11,30\n11,11,28\n12,11,23\n1,10,20\n2,10,29\n3,10,32\n4,10,30\n5,10,30\n6,10,33\n7,10,32\n8,10,30\n9,10,29\n10,10,29\n11,10,27\n12,10,22\n1,9,21\n2,9,28\n3,9,31\n4,9,29\n5,9,30\n6,9,31\n7,9,31\n8,9,29\n9,9,28\n10,9,27\n11,9,26\n12,9,22\n1,8,20\n2,8,27\n3,8,28\n4,8,28\n5,8,29\n6,8,29\n7,8,29\n8,8,28\n9,8,27\n10,8,26\n11,8,25\n12,8,19\n1,7,19\n2,7,25\n3,7,26\n4,7,26\n5,7,27\n6,7,28\n7,7,28\n8,7,26\n9,7,25\n10,7,25\n11,7,23\n12,7,19\n2,6,24\n3,6,25\n4,6,26\n5,6,26\n6,6,27\n7,6,26\n8,6,25\n9,6,23\n10,6,22\n11,6,24\n3,5,24\n4,5,23\n5,5,25\n6,5,25\n7,5,25\n8,5,22\n9,5,22\n10,5,22\n11,5,18\n4,4,21\n5,4,22\n6,4,24\n7,4,24\n8,4,19\n9,4,19\n5,3,17\n6,3,18\n7,3,17\n8,3,16\n9,3,14\n5,2,13\n6,2,17\n7,2,14\n8,2,14\n5,1,14\n6,1,15\n7,1,13\n8,1,11\n5,0,16\n6,0,16\n7,0,17\n5,-1,18\n6,-1,20\n7,-1,18", "format": {"type": "csv", "parse": {"m": "number", "h": "number", "v": "number"}}},
    "resolve": {"axis": {"x": "independent", "y": "independent"}},
    "layer": [
     {"mark": "rect", "encoding": {
      "x": {"field": "m", "type": "ordinal", "scale": {"domain": [1,2,3,4,5,6,7,8,9,10,11,12]}, "axis": {"orient": "bottom", "title": "Month", "grid": true, "labelExpr": "datum.value % 2 == 0 ? datum.label : ''"}},
      "y": {"field": "h", "type": "ordinal", "scale": {"domain": [22,21,20,19,18,17,16,15,14,13,12,11,10,9,8,7,6,5,4,3,2,1,0,-1]}, "axis": {"orient": "left", "labels": false, "title": null, "grid": true}},
      "color": {"field": "v", "type": "quantitative", "scale": {"domain": [10,13.5,17,20.5,24,27.5,31,34.5,38,41.5,45], "range": ["#8000ff","#4d4ffc","#1996f3","#1acee3","#4df3ce","#80ffb4","#b3f396","#e6ce74","#ff964f","#ff4f28","#ff0000"], "interpolate": "rgb"}, "legend": {"title": null, "format": "d", "offset": 0, "values": [10,15,20,25,30,35,40,45]}}}},
     {"mark": {"type": "rect", "opacity": 0}, "encoding": {
      "x": {"field": "m", "type": "ordinal", "scale": {"domain": [1,2,3,4,5,6,7,8,9,10,11,12]}, "axis": {"orient": "top", "labels": false, "title": null}},
      "y": {"field": "h", "type": "ordinal", "scale": {"domain": [22,21,20,19,18,17,16,15,14,13,12,11,10,9,8,7,6,5,4,3,2,1,0,-1]}, "axis": {"orient": "right", "labels": false, "title": null}}}}
    ]
   },
   {
    "width": 110, "height": 219,
    "data": {"values": "m,h,v\n1,22,19\n2,22,22\n3,22,25\n4,22,27\n5,22,27\n6,22,26\n7,22,26\n8,22,25\n9,22,24\n10,22,22\n11,22,20\n12,22,21\n1,21,19\n2,21,24\n3,21,26\n4,21,28\n5,21,28\n6,21,27\n7,21,27\n8,21,26\n9,21,25\n10,21,23\n11,21,17\n1,20,20\n2,20,25\n3,20,28\n4,20,29\n5,20,29\n6,20,28\n7,20,28\n8,20,27\n9,20,26\n10,20,24\n11,20,21\n1,19,21\n2,19,26\n3,19,29\n4,19,30\n5,19,30\n6,19,29\n7,19,29\n8,19,28\n9,19,27\n10,19,25\n11,19,22\n12,19,22\n1,18,22\n2,18,27\n3,18,30\n4,18,31\n5,18,30\n6,18,30\n7,18,30\n8,18,29\n9,18,28\n10,18,26\n11,18,24\n12,18,23\n1,17,24\n2,17,28\n3,17,31\n4,17,32\n5,17,31\n6,17,31\n7,17,31\n8,17,29\n9,17,29\n10,17,27\n11,17,25\n12,17,24\n1,16,27\n2,16,30\n3,16,30\n4,16,32\n5,16,31\n6,16,31\n7,16,31\n8,16,30\n9,16,29\n10,16,28\n11,16,26\n12,16,25\n1,15,31\n2,15,34\n3,15,31\n4,15,31\n5,15,31\n6,15,32\n7,15,31\n8,15,30\n9,15,30\n10,15,29\n11,15,28\n12,15,27\n1,14,35\n2,14,40\n3,14,33\n4,14,31\n5,14,31\n6,14,31\n7,14,30\n8,14,30\n9,14,30\n10,14,30\n11,14,30\n12,14,29\n1,13,36\n2,13,44\n3,13,34\n4,13,32\n5,13,32\n6,13,31\n7,13,30\n8,13,30\n9,13,30\n10,13,32\n11,13,33\n12,13,31\n1,12,38\n2,12,45\n3,12,38\n4,12,33\n5,12,34\n6,12,32\n7,12,31\n8,12,31\n9,12,32\n10,12,34\n11,12,35\n12,12,34\n1,11,39\n2,11,45\n3,11,40\n4,11,35\n5,11,36\n6,11,35\n7,11,32\n8,11,33\n9,11,33\n10,11,33\n11,11,37\n12,11,35\n1,10,38\n2,10,45\n3,10,40\n4,10,34\n5,10,36\n6,10,35\n7,10,33\n8,10,34\n9,10,34\n10,10,33\n11,10,36\n12,10,34\n1,9,37\n2,9,43\n3,9,41\n4,9,35\n5,9,37\n6,9,36\n7,9,33\n8,9,35\n9,9,33\n10,9,32\n11,9,33\n12,9,32\n1,8,34\n2,8,40\n3,8,38\n4,8,36\n5,8,42\n6,8,38\n7,8,33\n8,8,36\n9,8,31\n10,8,30\n11,8,30\n12,8,30\n1,7,30\n2,7,37\n3,7,37\n4,7,34\n5,7,38\n6,7,40\n7,7,34\n8,7,31\n9,7,30\n10,7,29\n11,7,28\n12,7,27\n1,6,25\n2,6,30\n3,6,34\n4,6,32\n5,6,36\n6,6,38\n7,6,33\n8,6,30\n9,6,29\n10,6,26\n11,6,23\n12,6,22\n1,5,23\n2,5,26\n3,5,33\n4,5,28\n5,5,30\n6,5,34\n7,5,30\n8,5,28\n9,5,27\n10,5,22\n11,5,20\n12,5,20\n1,4,22\n2,4,24\n3,4,20\n4,4,24\n5,4,27\n6,4,27\n7,4,27\n8,4,24\n9,4,23\n10,4,21\n11,4,16\n12,4,20\n2,3,13\n3,3,21\n4,3,24\n5,3,27\n6,3,27\n7,3,27\n8,3,24\n9,3,22\n10,3,20\n11,3,19\n3,2,23\n4,2,25\n5,2,27\n6,2,27\n7,2,26\n8,2,23\n9,2,21\n10,2,20\n11,2,19\n12,2,17\n2,1,18\n3,1,24\n4,1,26\n5,1,27\n6,1,26\n7,1,26\n8,1,23\n9,1,21\n10,1,21\n11,1,18\n12,1,18\n1,0,21\n2,0,22\n3,0,24\n4,0,25\n5,0,26\n6,0,26\n7,0,26\n8,0,24\n9,0,22\n10,0,21\n11,0,18\n12,0,19\n1,-1,22\n2,-1,23\n3,-1,25\n4,-1,26\n5,-1,27\n6,-1,27\n7,-1,27\n8,-1,25\n9,-1,23\n10,-1,22\n11,-1,20\n12,-1,20", "format": {"type": "csv", "parse": {"m": "number", "h": "number", "v": "number"}}},
    "resolve": {"axis": {"x": "independent", "y": "independent"}},
    "layer": [
     {"mark": "rect", "encoding": {
      "x": {"field": "m", "type": "ordinal", "scale": {"domain": [1,2,3,4,5,6,7,8,9,10,11,12]}, "axis": {"orient": "bottom", "title": "Month", "grid": true, "labelExpr": "datum.value % 2 == 0 ? datum.label : ''"}},
      "y": {"field": "h", "type": "ordinal", "scale": {"domain": [22,21,20,19,18,17,16,15,14,13,12,11,10,9,8,7,6,5,4,3,2,1,0,-1]}, "axis": {"orient": "left", "labels": false, "title": null, "grid": true}},
      "color": {"field": "v", "type": "quantitative", "scale": {"domain": [10,13.5,17,20.5,24,27.5,31,34.5,38,41.5,45], "range": ["#8000ff","#4d4ffc","#1996f3","#1acee3","#4df3ce","#80ffb4","#b3f396","#e6ce74","#ff964f","#ff4f28","#ff0000"], "interpolate": "rgb"}, "legend": {"title": null, "format": "d", "offset": 0, "values": [10,15,20,25,30,35,40,45]}}}},
     {"mark": {"type": "rect", "opacity": 0}, "encoding": {
      "x": {"field": "m", "type": "ordinal", "scale": {"domain": [1,2,3,4,5,6,7,8,9,10,11,12]}, "axis": {"orient": "top", "labels": false, "title": null}},
      "y": {"field": "h", "type": "ordinal", "scale": {"domain": [22,21,20,19,18,17,16,15,14,13,12,11,10,9,8,7,6,5,4,3,2,1,0,-1]}, "axis": {"orient": "right", "labels": false, "title": null}}}}
    ]
   }
   ]
  }
  ]
 },
 {
  "spacing": -2,
  "resolve": {"scale": {"color": "shared"}},
  "hconcat": [
  {
   "width": 110, "height": 219,
   "data": {"values": "m,h,v\n5,22,320\n6,22,315\n7,22,320\n5,21,320\n6,21,300\n7,21,315\n8,21,360\n5,20,315\n6,20,305\n7,20,310\n8,20,320\n4,19,320\n5,19,320\n6,19,315\n7,19,320\n8,19,320\n9,19,325\n3,18,320\n4,18,320\n5,18,300\n6,18,320\n7,18,315\n8,18,320\n9,18,320\n3,17,315\n4,17,300\n5,17,310\n6,17,320\n7,17,320\n8,17,320\n9,17,315\n10,17,315\n2,16,270\n3,16,280\n4,16,295\n5,16,310\n6,16,275\n7,16,310\n8,16,320\n9,16,310\n10,16,270\n11,16,265\n2,15,265\n3,15,270\n4,15,290\n5,15,310\n6,15,295\n7,15,320\n8,15,320\n9,15,310\n10,15,255\n11,15,255\n12,15,270\n1,14,235\n2,14,255\n3,14,280\n4,14,300\n5,14,320\n6,14,320\n7,14,340\n8,14,330\n9,14,310\n10,14,250\n11,14,250\n12,14,240\n1,13,230\n2,13,255\n3,13,275\n4,13,305\n5,13,320\n6,13,340\n7,13,345\n8,13,330\n9,13,315\n10,13,255\n11,13,245\n12,13,235\n1,12,230\n2,12,250\n3,12,270\n4,12,305\n5,12,325\n6,12,395\n7,12,345\n8,12,330\n9,12,315\n10,12,255\n11,12,245\n12,12,235\n1,11,232\n2,11,250\n3,11,265\n4,11,300\n5,11,320\n6,11,345\n7,11,340\n8,11,330\n9,11,310\n10,11,255\n11,11,235\n12,11,235\n1,10,230\n2,10,255\n3,10,275\n4,10,305\n5,10,320\n6,10,340\n7,10,330\n8,10,325\n9,10,305\n10,10,260\n11,10,245\n12,10,235\n1,9,235\n2,9,250\n3,9,280\n4,9,300\n5,9,320\n6,9,320\n7,9,325\n8,9,320\n9,9,295\n10,9,255\n11,9,250\n12,9,235\n1,8,230\n2,8,255\n3,8,275\n4,8,295\n5,8,310\n6,8,300\n7,8,295\n8,8,310\n9,8,270\n10,8,255\n11,8,250\n12,8,235\n1,7,235\n2,7,245\n3,7,265\n4,7,285\n5,7,310\n6,7,280\n7,7,290\n8,7,310\n9,7,260\n10,7,255\n11,7,250\n12,7,240\n2,6,245\n3,6,260\n4,6,290\n5,6,310\n6,6,275\n7,6,290\n8,6,310\n9,6,260\n10,6,250\n11,6,260\n12,6,340\n3,5,265\n4,5,285\n5,5,310\n6,5,300\n7,5,315\n8,5,310\n9,5,260\n10,5,255\n11,5,320\n4,4,255\n5,4,310\n6,4,330\n7,4,320\n8,4,320\n9,4,315\n5,3,315\n6,3,320\n7,3,320\n8,3,315\n9,3,265\n5,2,315\n6,2,310\n7,2,320\n8,2,320\n5,1,320\n6,1,325\n7,1,315\n8,1,355\n5,0,320\n6,0,310\n7,0,320\n5,-1,315\n6,-1,300\n7,-1,285", "format": {"type": "csv", "parse": {"m": "number", "h": "number", "v": "number"}}},
   "resolve": {"axis": {"x": "independent", "y": "independent"}},
   "layer": [
    {"mark": "rect", "encoding": {
     "x": {"field": "m", "type": "ordinal", "scale": {"domain": [1,2,3,4,5,6,7,8,9,10,11,12]}, "axis": {"orient": "bottom", "title": "Month", "grid": true, "labelExpr": "datum.value % 2 == 0 ? datum.label : ''"}},
     "y": {"field": "h", "type": "ordinal", "scale": {"domain": [22,21,20,19,18,17,16,15,14,13,12,11,10,9,8,7,6,5,4,3,2,1,0,-1]}, "axis": {"orient": "left", "labels": false, "title": null, "grid": true}},
     "color": {"field": "v", "type": "quantitative", "scale": {"domain": [210,234,258,282,306,330,354,378,402,426,450], "range": ["#8000ff","#4d4ffc","#1996f3","#1acee3","#4df3ce","#80ffb4","#b3f396","#e6ce74","#ff964f","#ff4f28","#ff0000"], "interpolate": "rgb"}, "legend": {"title": "F2-channel", "format": "d", "offset": 0, "titleOrient": "right", "titleAnchor": "middle", "titleAlign": "center", "titleBaseline": "top", "titlePadding": 5, "encode": {"title": {"update": {"angle": {"value": -90}}}}, "values": [250,300,350,400,450]}}}},
    {"mark": {"type": "rect", "opacity": 0}, "encoding": {
     "x": {"field": "m", "type": "ordinal", "scale": {"domain": [1,2,3,4,5,6,7,8,9,10,11,12]}, "axis": {"orient": "top", "labels": false, "title": null}},
     "y": {"field": "h", "type": "ordinal", "scale": {"domain": [22,21,20,19,18,17,16,15,14,13,12,11,10,9,8,7,6,5,4,3,2,1,0,-1]}, "axis": {"orient": "right", "labels": false, "title": null}}}}
   ]
  },
  {
   "width": 110, "height": 219,
   "data": {"values": "m,h,v\n1,22,390\n2,22,395\n3,22,365\n4,22,345\n5,22,330\n6,22,320\n7,22,320\n8,22,325\n9,22,340\n10,22,360\n11,22,380\n12,22,400\n1,21,385\n2,21,380\n3,21,355\n4,21,340\n5,21,330\n6,21,320\n7,21,315\n8,21,320\n9,21,345\n10,21,380\n11,21,400\n1,20,375\n2,20,365\n3,20,345\n4,20,330\n5,20,320\n6,20,315\n7,20,315\n8,20,320\n9,20,335\n10,20,370\n11,20,390\n12,20,385\n1,19,340\n2,19,330\n3,19,320\n4,19,310\n5,19,310\n6,19,310\n7,19,310\n8,19,315\n9,19,325\n10,19,340\n11,19,345\n12,19,340\n1,18,395\n2,18,315\n3,18,310\n4,18,300\n5,18,310\n6,18,310\n7,18,315\n8,18,310\n9,18,315\n10,18,320\n11,18,320\n12,18,320\n1,17,300\n2,17,300\n3,17,295\n4,17,290\n5,17,305\n6,17,310\n7,17,320\n8,17,310\n9,17,300\n10,17,285\n11,17,280\n12,17,275\n1,16,270\n2,16,270\n3,16,275\n4,16,285\n5,16,300\n6,16,310\n7,16,320\n8,16,310\n9,16,285\n10,16,260\n11,16,255\n12,16,250\n1,15,255\n2,15,250\n3,15,265\n4,15,280\n5,15,300\n6,15,315\n7,15,330\n8,15,315\n9,15,275\n10,15,250\n11,15,245\n12,15,240\n1,14,250\n2,14,245\n3,14,260\n4,14,275\n5,14,300\n6,14,325\n7,14,345\n8,14,320\n9,14,270\n10,14,245\n11,14,240\n12,14,240\n1,13,248\n2,13,245\n3,13,255\n4,13,270\n5,13,305\n6,13,340\n7,13,360\n8,13,330\n9,13,270\n10,13,245\n11,13,240\n12,13,240\n1,12,245\n2,12,240\n3,12,255\n4,12,270\n5,12,310\n6,12,390\n7,12,385\n8,12,335\n9,12,270\n10,12,245\n11,12,240\n12,12,238\n1,11,245\n2,11,240\n3,11,255\n4,11,270\n5,11,310\n6,11,345\n7,11,350\n8,11,330\n9,11,270\n10,11,240\n11,11,235\n12,11,235\n1,10,245\n2,10,240\n3,10,255\n4,10,270\n5,10,310\n6,10,340\n7,10,345\n8,10,325\n9,10,270\n10,10,240\n11,10,235\n12,10,235\n1,9,248\n2,9,245\n3,9,260\n4,9,270\n5,9,305\n6,9,330\n7,9,335\n8,9,320\n9,9,270\n10,9,245\n11,9,240\n12,9,240\n1,8,250\n2,8,250\n3,8,260\n4,8,275\n5,8,300\n6,8,320\n7,8,325\n8,8,315\n9,8,270\n10,8,250\n11,8,245\n12,8,240\n1,7,255\n2,7,255\n3,7,265\n4,7,280\n5,7,300\n6,7,315\n7,7,320\n8,7,315\n9,7,275\n10,7,255\n11,7,250\n12,7,250\n1,6,330\n2,6,300\n3,6,300\n4,6,310\n5,6,320\n6,6,325\n7,6,330\n8,6,330\n9,6,300\n10,6,290\n11,6,275\n12,6,340\n1,5,350\n2,5,345\n3,5,350\n4,5,345\n5,5,345\n6,5,340\n7,5,345\n8,5,350\n9,5,345\n10,5,350\n11,5,330\n12,5,390\n1,4,360\n2,4,420\n3,4,360\n4,4,360\n5,4,355\n6,4,345\n7,4,350\n8,4,360\n9,4,380\n10,4,385\n11,4,380\n12,4,330\n2,3,330\n3,3,370\n4,3,375\n5,3,360\n6,3,345\n7,3,350\n8,3,360\n9,3,385\n10,3,395\n11,3,390\n2,2,370\n3,2,380\n4,2,395\n5,2,365\n6,2,345\n7,2,350\n8,2,360\n9,2,375\n10,2,380\n11,2,420\n12,2,440\n1,1,370\n2,1,385\n3,1,390\n4,1,400\n5,1,360\n6,1,345\n7,1,345\n8,1,370\n9,1,390\n10,1,400\n11,1,410\n12,1,450\n1,0,380\n2,0,390\n3,0,395\n4,0,400\n5,0,355\n6,0,340\n7,0,340\n8,0,370\n9,0,380\n10,0,390\n11,0,400\n12,0,420\n1,-1,375\n2,-1,380\n3,-1,380\n4,-1,370\n5,-1,350\n6,-1,335\n7,-1,330\n8,-1,355\n9,-1,370\n10,-1,375\n11,-1,390\n12,-1,400", "format": {"type": "csv", "parse": {"m": "number", "h": "number", "v": "number"}}},
   "resolve": {"axis": {"x": "independent", "y": "independent"}},
   "layer": [
    {"mark": "rect", "encoding": {
     "x": {"field": "m", "type": "ordinal", "scale": {"domain": [1,2,3,4,5,6,7,8,9,10,11,12]}, "axis": {"orient": "bottom", "title": "Month", "grid": true, "labelExpr": "datum.value % 2 == 0 ? datum.label : ''"}},
     "y": {"field": "h", "type": "ordinal", "scale": {"domain": [22,21,20,19,18,17,16,15,14,13,12,11,10,9,8,7,6,5,4,3,2,1,0,-1]}, "axis": {"orient": "left", "labels": false, "title": null, "grid": true}},
     "color": {"field": "v", "type": "quantitative", "scale": {"domain": [210,234,258,282,306,330,354,378,402,426,450], "range": ["#8000ff","#4d4ffc","#1996f3","#1acee3","#4df3ce","#80ffb4","#b3f396","#e6ce74","#ff964f","#ff4f28","#ff0000"], "interpolate": "rgb"}, "legend": {"title": "F2-channel", "format": "d", "offset": 0, "titleOrient": "right", "titleAnchor": "middle", "titleAlign": "center", "titleBaseline": "top", "titlePadding": 5, "encode": {"title": {"update": {"angle": {"value": -90}}}}, "values": [250,300,350,400,450]}}}},
    {"mark": {"type": "rect", "opacity": 0}, "encoding": {
     "x": {"field": "m", "type": "ordinal", "scale": {"domain": [1,2,3,4,5,6,7,8,9,10,11,12]}, "axis": {"orient": "top", "labels": false, "title": null}},
     "y": {"field": "h", "type": "ordinal", "scale": {"domain": [22,21,20,19,18,17,16,15,14,13,12,11,10,9,8,7,6,5,4,3,2,1,0,-1]}, "axis": {"orient": "right", "labels": false, "title": null}}}}
   ]
  }
  ]
 }
 ]
}
]
}
